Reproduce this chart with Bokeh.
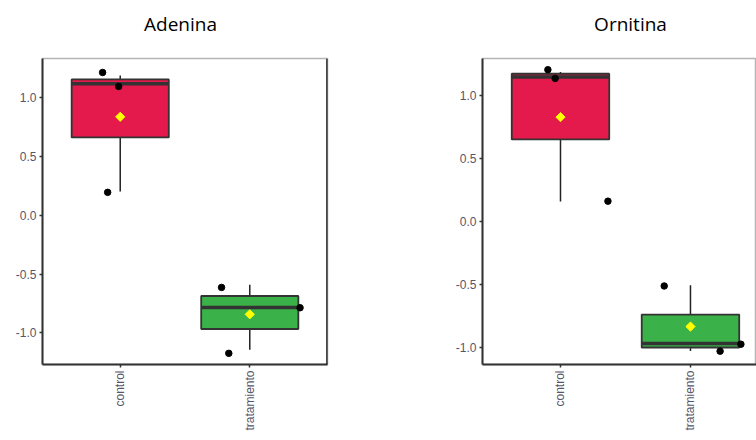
import math
from bokeh.plotting import figure
from bokeh.layouts import row, column
from bokeh.models import FixedTicker, Span, Range1d
from bokeh.core.properties import value
from bokeh.embed import file_html
from bokeh.resources import INLINE

categories = ["control", "tratamiento"]
y_ticks = [-1.0, -0.5, 0.0, 0.5, 1.0]
y_tick_labels = ["-1.0", "-0.5", "0.0", "0.5", "1.0"]
fill_colors = ["#E31A4B", "#3BB14A"]
titles = ["Adenina", "Ornitina"]

# Adenina box statistics (control, tratamiento)
ade_q1 = [0.662, -0.968]
ade_median = [1.12, -0.784]
ade_q3 = [1.156, -0.687]
ade_low = [0.203, -1.144]
ade_high = [1.19, -0.591]
ade_mean = [0.838, -0.843]
# Adenina points (group index, jitter offset, value)
ade_pt_group = [0, 0, 0, 1, 1, 1]
ade_pt_jitter = [-0.136, -0.012, -0.097, -0.218, -0.162, 0.388]
ade_pt_value = [1.215, 1.096, 0.195, -0.614, -1.175, -0.787]

# Ornitina box statistics
orn_q1 = [0.651, -1.0]
orn_median = [1.147, -0.968]
orn_q3 = [1.172, -0.739]
orn_low = [0.158, -1.027]
orn_high = [1.185, -0.506]
orn_mean = [0.828, -0.834]
orn_pt_group = [0, 0, 0, 1, 1, 1]
orn_pt_jitter = [-0.097, -0.041, 0.365, -0.202, 0.228, 0.388]
orn_pt_value = [1.204, 1.135, 0.161, -0.512, -1.029, -0.974]

TITLE_H = 40


def make_title(text, cx):
    t = figure(width=378, height=TITLE_H, output_backend="svg", toolbar_location=None,
               x_range=Range1d(0, 378), y_range=Range1d(0, TITLE_H),
               x_axis_type=None, y_axis_type=None,
               min_border_left=0, min_border_right=0, min_border_top=0, min_border_bottom=0)
    t.xgrid.visible = False
    t.ygrid.visible = False
    t.outline_line_color = None
    t.text(x=[cx], y=[TITLE_H - 23], text=[text], text_align="center", text_baseline="middle",
           text_font=value("Open Sans"), text_font_size="19px", text_color="#000000")
    return t


def make_panel(q1, med, q3, low, high, mean, pg, pj, pv,
               border_left, border_right, x_end, y_start, y_end, right_border):
    p = figure(width=378, height=440 - TITLE_H, output_backend="svg", toolbar_location=None,
               x_range=Range1d(0.4, x_end), y_range=Range1d(y_start, y_end),
               min_border_left=border_left, min_border_right=border_right,
               min_border_top=58 - TITLE_H, min_border_bottom=76)
    p.xgrid.visible = False
    p.ygrid.visible = False
    p.outline_line_color = "#b5b5b5"
    p.outline_line_width = 1.5

    xs = [i + 1 for i in range(len(categories))]
    bw = 0.75
    # whiskers
    p.segment(x0=xs, y0=low, x1=xs, y1=high, line_color="#222222", line_width=1.5)
    # boxes
    p.vbar(x=xs, width=bw, bottom=q1, top=q3, fill_color=fill_colors,
           line_color="#333333", line_width=1.8)
    # medians
    p.segment(x0=[x - bw / 2 for x in xs], y0=med, x1=[x + bw / 2 for x in xs], y1=med,
              line_color="#333333", line_width=3.5)
    # jittered points
    px = [xs[g] + j for g, j in zip(pg, pj)]
    p.scatter(x=px, y=pv, size=6.5, marker="circle", fill_color="black", line_color="black")
    # means
    p.scatter(x=xs, y=mean, size=6.5, marker="square", angle=math.pi / 4,
              fill_color="#FFFF00", line_color="#FFFF00")

    if right_border:
        p.add_layout(Span(location=x_end, dimension="height", line_color="#111111", line_width=2.5))

    for ax in (p.xaxis, p.yaxis):
        ax.axis_line_color = "#333333"
        ax.axis_line_width = 2
        ax.major_tick_line_color = "#333333"
        ax.major_tick_line_width = 1.5
        ax.major_tick_in = 0
        ax.major_tick_out = 3
        ax.minor_tick_line_color = None
        ax.major_label_text_font = "Liberation Sans"
        ax.major_label_text_font_size = "12px"
        ax.major_label_text_color = "#55566a"
        ax.major_label_standoff = 3

    p.yaxis.ticker = FixedTicker(ticks=y_ticks)
    p.yaxis.major_label_overrides = {t: s for t, s in zip(y_ticks, y_tick_labels)}
    p.xaxis.ticker = FixedTicker(ticks=xs)
    p.xaxis.major_label_overrides = {x: c for x, c in zip(xs, categories)}
    p.xaxis.major_label_orientation = math.pi / 2
    return p


t1 = make_title(titles[0], 180)
t2 = make_title(titles[1], 252)
p1 = make_panel(ade_q1, ade_median, ade_q3, ade_low, ade_high, ade_mean,
                ade_pt_group, ade_pt_jitter, ade_pt_value,
                42, 51, 2.6, -1.27, 1.334, True)
p2 = make_panel(orn_q1, orn_median, orn_q3, orn_low, orn_high, orn_mean,
                orn_pt_group, orn_pt_jitter, orn_pt_value,
                104, 0, 2.508, -1.135, 1.293, False)

layout = column(row(t1, t2), row(p1, p2))
open("out.html", "w").write(file_html(layout, INLINE))
